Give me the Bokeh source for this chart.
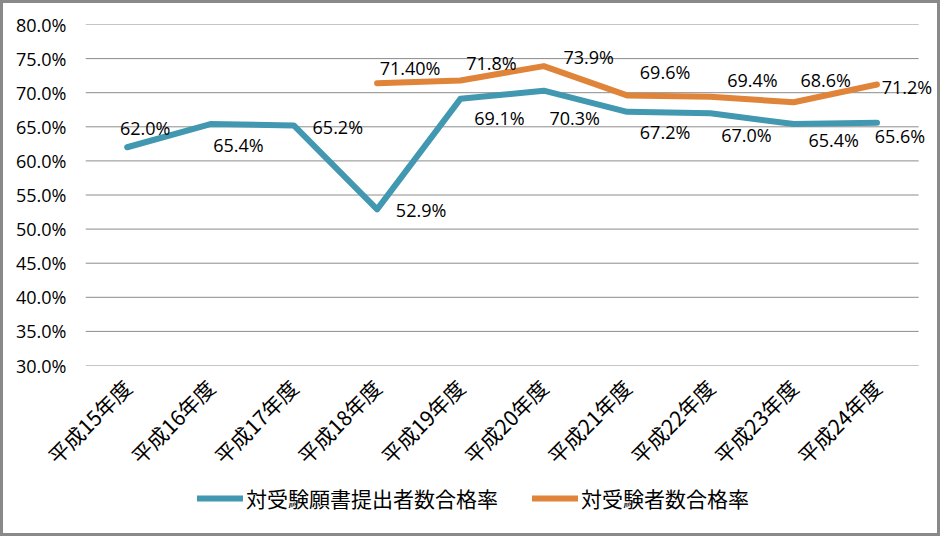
from bokeh.plotting import figure
from bokeh.layouts import column
from bokeh.models import (Range1d, ColumnDataSource, Legend, LegendItem,
                          FixedTicker, CustomJSTickFormatter)
from bokeh.core.properties import value
from bokeh.embed import file_html
from bokeh.resources import INLINE

categories = ["平成15年度", "平成16年度", "平成17年度", "平成18年度", "平成19年度",
              "平成20年度", "平成21年度", "平成22年度", "平成23年度", "平成24年度"]
series_names = ["対受験願書提出者数合格率", "対受験者数合格率"]
applicants_rate = [62.0, 65.4, 65.2, 52.9, 69.1, 70.3, 67.2, 67.0, 65.4, 65.6]
examinees_rate = [float("nan"), float("nan"), float("nan"), 71.4, 71.8, 73.9, 69.6, 69.4, 68.6, 71.2]
applicants_labels = ["62.0%", "65.4%", "65.2%", "52.9%", "69.1%", "70.3%", "67.2%", "67.0%", "65.4%", "65.6%"]
examinees_labels = ["", "", "", "71.40%", "71.8%", "73.9%", "69.6%", "69.4%", "68.6%", "71.2%"]
y_ticks = [30, 35, 40, 45, 50, 55, 60, 65, 70, 75, 80]

positions = list(range(len(categories)))

# label offsets in screen pixels (style only)
blue_dx = [18, 28, 44, 44, 39, 31, 38, 36, 40, 23]
blue_dy = [-19, 21, 2, 1, 19, 27, 20, 22, 16, 13]
orange_dx = [0, 0, 0, 33, 31, 45, 38, 42, 32, 30]
orange_dy = [0, 0, 0, -15, -17, -9, -23, -17, -22, 2]

BLUE = "#4198B0"
ORANGE = "#E0843A"
GRID = "#8C8C8C"
NUM_FONT = "Open Sans"
CJK_FONT = "Noto Sans CJK JP"

x_lo, x_hi = -0.5, len(categories) - 0.5

p = figure(x_range=Range1d(x_lo, x_hi + 0.19), y_range=Range1d(y_ticks[0], y_ticks[-1]),
           width=934, height=481, output_backend="svg", toolbar_location=None,
           min_border_left=82, min_border_right=3, min_border_top=21, min_border_bottom=119)
p.outline_line_color = None
p.background_fill_color = "white"
p.border_fill_color = "white"

# horizontal gridlines spanning the category area
p.segment(x0=[x_lo] * len(y_ticks), x1=[x_hi] * len(y_ticks), y0=y_ticks, y1=y_ticks,
          line_color=GRID, line_width=1)

src_b = ColumnDataSource(dict(x=positions, y=applicants_rate, t=applicants_labels, dx=blue_dx, dy=blue_dy))
src_o = ColumnDataSource(dict(x=positions, y=examinees_rate, t=examinees_labels, dx=orange_dx, dy=orange_dy))

p.line("x", "y", source=src_b, line_color=BLUE, line_width=6, line_join="round", line_cap="round")
p.line("x", "y", source=src_o, line_color=ORANGE, line_width=6, line_join="round", line_cap="round")

for src in (src_b, src_o):
    p.text("x", "y", text="t", source=src, x_offset="dx", y_offset="dy",
           text_align="center", text_baseline="middle",
           text_font=value(NUM_FONT), text_font_size="18px", text_color="#000000")

# axes
p.yaxis.ticker = FixedTicker(ticks=y_ticks)
p.yaxis.formatter = CustomJSTickFormatter(code="return tick.toFixed(1) + '%';")
p.yaxis.axis_line_color = None
p.yaxis.major_tick_line_color = None
p.yaxis.minor_tick_line_color = None
p.yaxis.major_label_standoff = 13
p.yaxis.major_label_text_font = NUM_FONT
p.yaxis.major_label_text_font_size = "18px"
p.yaxis.major_label_text_color = "#000000"

p.xaxis.ticker = FixedTicker(ticks=positions)
p.xaxis.major_label_overrides = {i: c for i, c in zip(positions, categories)}
p.xaxis.axis_line_color = None
p.xaxis.major_tick_line_color = None
p.xaxis.minor_tick_line_color = None
p.xaxis.major_label_orientation = 0.785398
p.xaxis.major_label_standoff = 12
p.xaxis.major_label_text_font = CJK_FONT
p.xaxis.major_label_text_font_size = "21px"
p.xaxis.major_label_text_color = "#000000"

p.xgrid.grid_line_color = None
p.ygrid.grid_line_color = None

# legend strip below the chart (its frame is aligned with the chart's frame)
lf = figure(width=934, height=49, output_backend="svg", toolbar_location=None,
            x_range=Range1d(0, 1), y_range=Range1d(0, 1), x_axis_type=None, y_axis_type=None,
            min_border=0, min_border_left=0, min_border_right=0, min_border_top=0, min_border_bottom=0)
lf.outline_line_color = None
lf.xgrid.grid_line_color = None
lf.ygrid.grid_line_color = None
lf.border_fill_color = "white"
# legend keys: same line styles, kept outside the visible range
lg_b = lf.line(x=[5, 6], y=[5, 5], line_color=BLUE, line_width=6, line_cap="round")
lg_o = lf.line(x=[5, 6], y=[5, 5], line_color=ORANGE, line_width=6, line_cap="round")

legend = Legend(items=[LegendItem(label=series_names[0], renderers=[lg_b]),
                       LegendItem(label=series_names[1], renderers=[lg_o])],
                orientation="horizontal", location=(112, 20),
                padding=0, margin=0, spacing=34, glyph_width=46, glyph_height=20,
                label_standoff=3, border_line_color=None, background_fill_alpha=0,
                label_text_font=CJK_FONT, label_text_font_size="21px",
                label_text_color="#000000")
lf.add_layout(legend, "center")

layout = column(p, lf, spacing=0, styles={"border": "3px solid #898989"})

open("out.html", "w").write(file_html(layout, INLINE))
